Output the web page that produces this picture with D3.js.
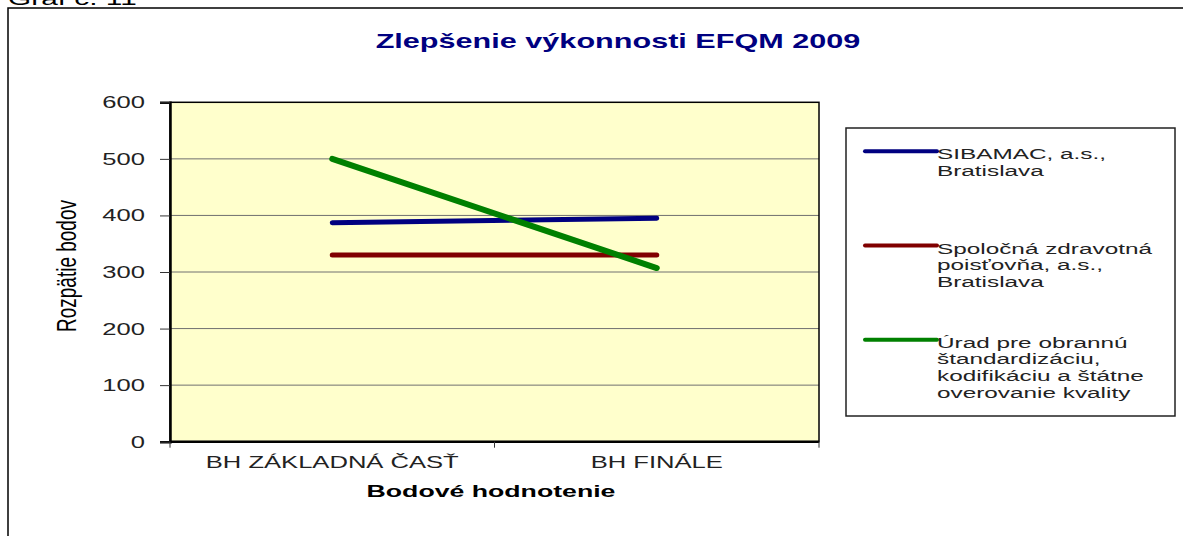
<!DOCTYPE html>
<html>
<head>
<meta charset="utf-8">
<script src="https://cdn.jsdelivr.net/npm/d3@7"></script>
<style>
  html, body { margin: 0; padding: 0; background: #fff; overflow: hidden; }
  text { font-family: Arial, "Liberation Sans", sans-serif; }
</style>
</head>
<body>
<div id="graf"></div>
<script>
// Data
var categories = ["BH ZÁKLADNÁ ČASŤ", "BH FINÁLE"];
var sibamac = [387, 395];
var spolocna = [330, 330];
var urad = [500, 307];
var yTicks = [0, 100, 200, 300, 400, 500, 600];

var seriesNames = [
  ["SIBAMAC, a.s.,", "Bratislava"],
  ["Spoločná zdravotná", "poisťovňa, a.s.,", "Bratislava"],
  ["Úrad pre obrannú", "štandardizáciu,", "kodifikáciu a štátne", "overovanie kvality"],
];
var seriesColors = ["#000080", "#800000", "#008000"];
var seriesValues = [sibamac, spolocna, urad];

// the picture is stretched sideways, so every text gets the same x scale
var stretch = 1.57;

var width = 1183;
var height = 536;
var plot = { left: 170, right: 819, top: 102.3, bottom: 441.7 };

var svg = d3
  .select("#graf")
  .append("svg")
  .attr("width", width)
  .attr("height", height);

////////////////////////////////
// helper for stretched text
function label(x, y, str, size, opts) {
  opts = opts || {};
  var g = svg
    .append("g")
    .attr("transform", "translate(" + x + "," + y + ") scale(" + stretch + ",1)");
  g.append("text")
    .attr("text-anchor", opts.anchor || "start")
    .style("font-size", size + "px")
    .style("font-weight", opts.bold ? "bold" : "normal")
    .attr("fill", opts.color || "#111")
    .text(str);
  return g;
}

// caption above the frame (cut off in the original)
label(8, 5, "Graf č. 11", 19, { color: "#000" });

// outer frame
svg
  .append("rect")
  .attr("x", 8)
  .attr("y", 8)
  .attr("width", 1190)
  .attr("height", 540)
  .attr("fill", "#fff")
  .attr("stroke", "#000")
  .attr("stroke-width", 1.5);

// title
label(618, 48.3, "Zlepšenie výkonnosti EFQM 2009", 19.5, {
  anchor: "middle",
  bold: true,
  color: "#000080",
});

////////////////////////////////
// scales
var x = d3
  .scalePoint()
  .domain(categories)
  .range([plot.left, plot.right])
  .padding(0.5);

var y = d3.scaleLinear().domain([0, 600]).range([plot.bottom, plot.top]);

// plot area
svg
  .append("rect")
  .attr("x", plot.left)
  .attr("y", plot.top)
  .attr("width", plot.right - plot.left)
  .attr("height", plot.bottom - plot.top)
  .attr("fill", "#ffffcc");

// grid lines
svg
  .append("g")
  .selectAll("line")
  .data(yTicks.slice(1, -1))
  .enter()
  .append("line")
  .attr("x1", plot.left)
  .attr("x2", plot.right)
  .attr("y1", function (d) {
    return y(d);
  })
  .attr("y2", function (d) {
    return y(d);
  })
  .attr("stroke", "#707070")
  .attr("stroke-width", 1);

// plot border
svg
  .append("rect")
  .attr("x", plot.left)
  .attr("y", plot.top)
  .attr("width", plot.right - plot.left)
  .attr("height", plot.bottom - plot.top)
  .attr("fill", "none")
  .attr("stroke", "#000")
  .attr("stroke-width", 1.5);

// Y axis
var yAxis = svg
  .append("g")
  .attr("transform", "translate(" + plot.left + ",0)")
  .call(d3.axisLeft(y).tickValues(yTicks).tickSize(10).tickFormat(""));
yAxis.select(".domain").attr("stroke-width", 2.5);
yAxis.selectAll(".tick line").attr("stroke", "#333");

yTicks.forEach(function (t) {
  label(145, y(t) + 6, String(t), 16.3, { anchor: "end", color: "#222" });
});

// X axis, ticks at the category boundaries
var xEdges = [plot.left, (plot.left + plot.right) / 2, plot.right];
svg
  .append("line")
  .attr("x1", plot.left)
  .attr("x2", plot.right)
  .attr("y1", plot.bottom)
  .attr("y2", plot.bottom)
  .attr("stroke", "#000")
  .attr("stroke-width", 2.5);
svg
  .append("g")
  .selectAll("line")
  .data(xEdges)
  .enter()
  .append("line")
  .attr("x1", function (d) {
    return d;
  })
  .attr("x2", function (d) {
    return d;
  })
  .attr("y1", plot.bottom)
  .attr("y2", plot.bottom + 6)
  .attr("stroke", "#333");

categories.forEach(function (c) {
  label(x(c), 467.7, c, 16.3, { anchor: "middle", color: "#222" });
});

// axis titles
label(491, 497.3, "Bodové hodnotenie", 17, { anchor: "middle", bold: true, color: "#000" });

svg
  .append("g")
  .attr("transform", "translate(76,266) scale(1.45,1) rotate(-90)")
  .append("text")
  .attr("text-anchor", "middle")
  .style("font-size", "19px")
  .attr("fill", "#000")
  .text("Rozpätie bodov");

////////////////////////////////
// lines
var line = d3
  .line()
  .x(function (d, i) {
    return x(categories[i]);
  })
  .y(function (d) {
    return y(d);
  });

seriesValues.forEach(function (vals, i) {
  svg
    .append("path")
    .datum(vals)
    .attr("fill", "none")
    .attr("stroke", seriesColors[i])
    .attr("stroke-width", i == 2 ? 6 : 5)
    .attr("stroke-linecap", "round")
    .attr("d", line);
});

////////////////////////////////
// legend
svg
  .append("rect")
  .attr("x", 846)
  .attr("y", 128)
  .attr("width", 329)
  .attr("height", 288)
  .attr("fill", "#fff")
  .attr("stroke", "#222")
  .attr("stroke-width", 1.5);

seriesNames.forEach(function (rows, i) {
  var base = 159.3 + 94.2 * i;
  svg
    .append("line")
    .attr("x1", 865)
    .attr("x2", 937)
    .attr("y1", base - 8)
    .attr("y2", base - 8)
    .attr("stroke", seriesColors[i])
    .attr("stroke-width", 4)
    .attr("stroke-linecap", "round");
  rows.forEach(function (r, j) {
    label(937, base + 16.7 * j, r, 15.5, { color: "#222" });
  });
});
</script>
</body>
</html>
